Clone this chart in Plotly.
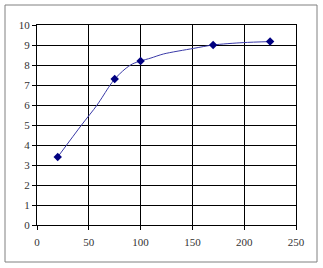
import plotly.graph_objects as go

# measured data points (markers)
pt_x = [20, 75, 100, 170, 225]
pt_y = [3.4, 7.3, 8.2, 9.0, 9.17]

# smooth curve
curve_x = [20, 43, 58, 70, 75, 85, 92, 100, 110, 122, 151, 170, 199, 225]
curve_y = [3.4, 5.0, 6.0, 6.95, 7.3, 7.8, 8.05, 8.2, 8.35, 8.55, 8.83, 9.0, 9.12, 9.17]

x_ticks = [0, 50, 100, 150, 200, 250]
y_ticks = list(range(0, 11))

W, H = 323, 268
L, R, T, B = 37, 27, 25, 43

fig = go.Figure()
fig.add_trace(go.Scatter(x=curve_x, y=curve_y, mode="lines",
                         line=dict(color="#3a3aa8", width=1, shape="spline", smoothing=0.8),
                         hoverinfo="skip", showlegend=False))
fig.add_trace(go.Scatter(x=pt_x, y=pt_y, mode="markers",
                         marker=dict(symbol="diamond", size=6.5, color="#000080"),
                         showlegend=False))

pw, ph = W - L - R, H - T - B
fig.add_shape(type="rect", xref="paper", yref="paper",
              x0=(5 - L) / pw, x1=(317 - L) / pw,
              y0=(H - B - 262) / ph, y1=(H - B - 5) / ph,
              line=dict(color="#808080", width=1), fillcolor="rgba(0,0,0,0)", layer="below")

axis_common = dict(showgrid=True, gridcolor="black", gridwidth=1,
                   showline=True, linecolor="black", linewidth=1, mirror=True,
                   ticks="outside", ticklen=4, tickcolor="black", zeroline=False,
                   tickfont=dict(family="Liberation Serif", size=11, color="#333"))

fig.update_xaxes(range=[0, 250], tickvals=x_ticks, ticktext=[str(v) for v in x_ticks],
                 ticklabelstandoff=3, **axis_common)
fig.update_yaxes(range=[0, 10], tickvals=y_ticks, ticktext=[str(v) for v in y_ticks], **axis_common)

fig.update_layout(width=W, height=H, margin=dict(l=L, r=R, t=T, b=B, pad=0),
                  paper_bgcolor="white", plot_bgcolor="white")

fig.write_html("out.html")
